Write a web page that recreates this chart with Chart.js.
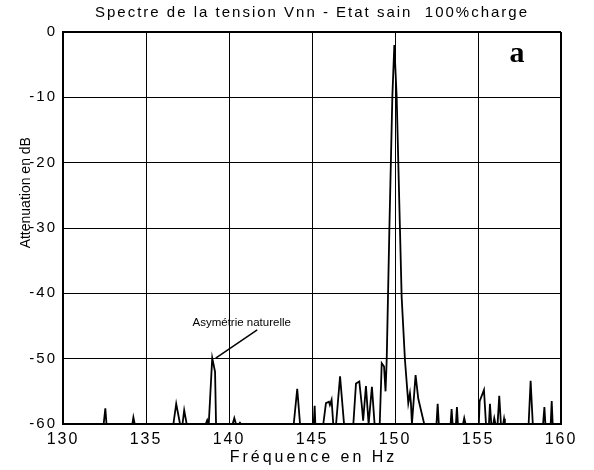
<!DOCTYPE html>
<html>
<head>
<meta charset="utf-8">
<script src="https://cdn.jsdelivr.net/npm/chart.js@4"></script>
<style>
  html, body { margin: 0; padding: 0; background: #fff; }
</style>
</head>
<body>
<canvas id="spectre" width="594" height="470"></canvas>
<script>
// spectrum, clipped at -60 dB
const freqs = [
  130.0, 132.45, 132.55, 132.62, 134.18, 134.24, 134.32, 136.65, 136.82, 137.05,
  137.2, 137.3, 137.45, 138.6, 138.69, 138.78, 138.99, 139.16, 139.22, 140.22,
  140.32, 140.42, 140.6, 140.66, 140.72, 143.9, 144.11, 144.28, 145.1, 145.16,
  145.2, 145.68, 145.84, 146.02, 146.08, 146.18, 146.28, 146.45, 146.69, 146.93,
  147.49, 147.65, 147.85, 148.01, 148.08, 148.25, 148.41, 148.61, 148.77, 149.08,
  149.2, 149.34, 149.43, 149.5, 149.66, 149.84, 149.96, 150.1, 150.3, 150.4,
  150.6, 150.8, 150.9, 150.96, 151.02, 151.24, 151.4, 151.76, 152.5, 152.57,
  152.64, 153.35, 153.41, 153.47, 153.67, 153.73, 153.79, 154.1, 154.17, 154.25,
  155.05, 155.1, 155.36, 155.48, 155.66, 155.72, 155.8, 155.92, 155.98, 156.05,
  156.18, 156.28, 156.38, 156.52, 156.57, 156.62, 158.05, 158.17, 158.3, 158.92,
  159.0, 159.06, 159.38, 159.44, 159.5, 160.0
];
const levels = [
  -60, -60, -57.6, -60, -60, -59.0, -60, -60, -56.9, -60,
  -60, -57.9, -60, -60, -59.4, -60, -49.9, -52.0, -60, -60,
  -59.1, -60, -60, -59.8, -60, -60, -54.6, -60, -60, -57.2,
  -60, -60, -56.8, -56.6, -57.1, -56.3, -60, -60, -52.7, -60,
  -60, -53.8, -53.5, -57.4, -59.5, -54.2, -60, -54.3, -60, -60,
  -50.7, -51.2, -55.0, -50.2, -30.3, -9.9, -2.0, -9.9, -30.3, -40.5,
  -50.2, -56.8, -55.3, -56.8, -60, -52.5, -56.1, -60, -60, -56.9,
  -60, -60, -57.7, -60, -60, -57.4, -60, -60, -59.1, -60,
  -60, -56.5, -54.8, -60, -60, -56.9, -60, -60, -59.1, -60,
  -60, -55.7, -60, -60, -59.2, -60, -60, -53.4, -60, -60,
  -57.4, -60, -60, -56.5, -60, -60
];
const xTicks = [130, 135, 140, 145, 150, 155, 160];
const yTicks = [0, -10, -20, -30, -40, -50, -60];

const titleText = 'Spectre de la tension Vnn - Etat sain  100%charge';
const xTitle = 'Fréquence en Hz';
const yTitle = 'Attenuation en dB';
const noteText = 'Asymétrie naturelle';
const panelLabel = 'a';

// annotation anchors in data units
const noteAt = { x: 137.8, y: -45.0 };
const leaderFrom = { x: 139.2, y: -49.9 };
const leaderTo = { x: 141.7, y: -45.6 };
const labelAt = { x: 157.35, y: -4.6 };
const yTitleAt = -24.6;

const FONT = '"Liberation Sans", Arial, sans-serif';

const points = freqs.map((f, i) => ({ x: f, y: levels[i] }));

// the original print uses spaced-out lettering for title and tick labels
const spacing = {
    id: 'spacing',
    beforeDraw(chart) { chart.ctx.letterSpacing = '2px'; },
    beforeDatasetsDraw(chart) { chart.ctx.letterSpacing = '0px'; }
};

const extras = {
    id: 'extras',
    afterDraw(chart) {
        const { ctx, scales: { x, y }, chartArea } = chart;
        ctx.save();
        ctx.fillStyle = '#000';
        ctx.strokeStyle = '#000';

        // x axis title
        ctx.save();
        ctx.letterSpacing = '3px';
        ctx.font = '16px ' + FONT;
        ctx.textAlign = 'center';
        ctx.textBaseline = 'middle';
        ctx.fillText(xTitle, (chartArea.left + chartArea.right) / 2 + 1.5, chartArea.bottom + 34);
        ctx.restore();

        // y axis title
        ctx.save();
        ctx.translate(chartArea.left - 37, y.getPixelForValue(yTitleAt));
        ctx.rotate(-Math.PI / 2);
        ctx.font = '14px ' + FONT;
        ctx.textAlign = 'center';
        ctx.textBaseline = 'middle';
        ctx.fillText(yTitle, 0, 0);
        ctx.restore();

        // note + leader line
        ctx.font = '11.5px ' + FONT;
        ctx.textAlign = 'left';
        ctx.textBaseline = 'alphabetic';
        ctx.fillText(noteText, x.getPixelForValue(noteAt.x), y.getPixelForValue(noteAt.y));
        ctx.lineWidth = 1.5;
        ctx.beginPath();
        ctx.moveTo(x.getPixelForValue(leaderFrom.x), y.getPixelForValue(leaderFrom.y));
        ctx.lineTo(x.getPixelForValue(leaderTo.x), y.getPixelForValue(leaderTo.y));
        ctx.stroke();

        // panel letter
        ctx.font = 'bold 30px "Liberation Serif", "Times New Roman", serif';
        ctx.textAlign = 'center';
        ctx.fillText(panelLabel, x.getPixelForValue(labelAt.x), y.getPixelForValue(labelAt.y));
        ctx.restore();
    }
};

const edgeWidth = (ctx, edge) => (ctx.tick && ctx.tick.value === edge ? 2 : 1);

new Chart(document.getElementById('spectre'), {
    type: 'line',
    data: {
        datasets: [{
            data: points,
            borderColor: '#000',
            borderWidth: 1.8,
            pointRadius: 0,
            tension: 0,
            fill: false
        }]
    },
    options: {
        responsive: false,
        animation: false,
        devicePixelRatio: 1,
        layout: { padding: { left: 0, right: 33, top: 0, bottom: 0 } },
        plugins: {
            legend: { display: false },
            tooltip: { enabled: false },
            title: {
                display: true,
                text: titleText,
                fullSize: false,
                color: '#000',
                font: { family: FONT, size: 15, weight: 'normal', lineHeight: 1.2 },
                padding: { top: 4, bottom: 10 }
            }
        },
        scales: {
            x: {
                type: 'linear',
                min: 130,
                max: 160,
                afterBuildTicks: s => { s.ticks = xTicks.map(v => ({ value: v })); },
                afterFit: s => { s.height = 46; },
                grid: { color: '#000', lineWidth: c => edgeWidth(c, 160), drawTicks: false },
                border: { color: '#000', width: 2 },
                ticks: {
                    color: '#000',
                    padding: 6,
                    maxRotation: 0,
                    font: { family: FONT, size: 16 }
                }
            },
            y: {
                min: -60,
                max: 0,
                afterBuildTicks: s => { s.ticks = yTicks.map(v => ({ value: v })); },
                afterFit: s => { s.width = 63; },
                grid: { color: '#000', lineWidth: c => edgeWidth(c, 0), drawTicks: false },
                border: { color: '#000', width: 2 },
                ticks: {
                    color: '#000',
                    padding: 6,
                    font: { family: FONT, size: 15 }
                }
            }
        }
    },
    plugins: [spacing, extras]
});
</script>
</body>
</html>
